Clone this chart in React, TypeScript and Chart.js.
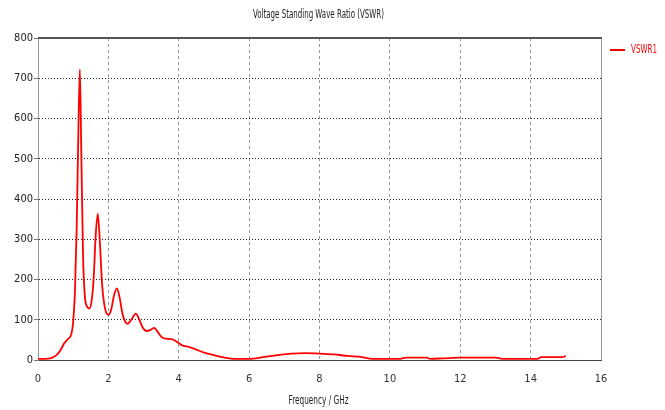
import React, { useEffect, useRef } from "react";
import { Chart, registerables } from "chart.js";

Chart.register(...registerables);

const freqGHz = [
  0, 0.2, 0.35, 0.45, 0.55, 0.65, 0.75, 0.85, 0.95, 1.0, 1.05, 1.1, 1.15, 1.19, 1.23, 1.28, 1.33, 1.4, 1.46,
  1.52, 1.58, 1.64, 1.7, 1.76, 1.82, 1.9, 2.0, 2.08, 2.16, 2.24, 2.32, 2.4, 2.48, 2.55, 2.65, 2.78, 2.88,
  2.98, 3.08, 3.2, 3.3, 3.4, 3.5, 3.62, 3.8, 3.95, 4.08, 4.3, 4.5, 4.7, 5.0, 5.3, 5.6, 6.0, 6.4, 6.8, 7.2,
  7.6, 8.0, 8.4, 8.8, 9.2, 9.5, 10.3, 10.45, 11.05, 11.15, 11.5, 12.0, 13.0, 13.2, 14.2, 14.3, 14.9, 15.0,
];
const vswr1 = [
  3, 3, 4, 8, 14, 26, 42, 52, 65, 95, 170, 330, 580, 722, 520, 260, 160, 132, 128,
  145, 200, 310, 363, 290, 190, 130, 112, 125, 160, 178, 155, 115, 95, 90, 100, 115, 100,
  80, 72, 75, 80, 70, 58, 53, 52, 45, 37, 32, 26, 19, 12, 6, 3, 3, 7, 12, 16,
  17, 16, 14, 10, 7, 3, 3, 6, 6, 3, 4, 6, 6, 3, 3, 7, 7, 10,
];
const xTicks = [0, 2, 4, 6, 8, 10, 12, 14, 16];
const yTicks = [0, 100, 200, 300, 400, 500, 600, 700, 800];
const chartTitle = "Voltage Standing Wave Ratio (VSWR)";
const xAxisTitle = "Frequency / GHz";
const seriesName = "VSWR1";

function pickFont(cands: string[], fallback: string): string {
  const c = document.createElement("canvas").getContext("2d");
  if (!c) return fallback;
  const sample = "Voltage Standing 0123456789 VSWR";
  for (const name of cands) {
    let found = false;
    for (const base of ["monospace", "serif"]) {
      c.font = "20px " + base;
      const w0 = c.measureText(sample).width;
      c.font = '20px "' + name + '", ' + base;
      const w1 = c.measureText(sample).width;
      if (Math.abs(w0 - w1) > 0.5) found = true;
    }
    if (found) return '"' + name + '"';
  }
  return fallback;
}

export default function App() {
  const ref = useRef<HTMLCanvasElement | null>(null);
  useEffect(() => {
    if (!ref.current) return;
    const FONT = pickFont(
      ["Liberation Sans Narrow", "DejaVu Sans Condensed", "Roboto Condensed", "Arial Narrow", "Liberation Sans"],
      "sans-serif"
    );
    const drawText = (
      ctx: any, text: string, cx: number, cy: number, targetW: number, color: string, align: string, size: number
    ) => {
      ctx.save();
      ctx.font = size + "px " + FONT;
      ctx.fillStyle = color;
      ctx.textBaseline = "middle";
      ctx.textAlign = "left";
      const w = ctx.measureText(text).width;
      const k = Math.min(1, targetW / w);
      const left = align === "center" ? cx - (w * k) / 2 : cx;
      ctx.translate(left, cy);
      ctx.scale(k, 1);
      ctx.fillText(text, 0, 0);
      ctx.restore();
    };
    const decor = {
      id: "decor",
      afterDraw(chart: any) {
        const { ctx, chartArea: a } = chart;
        ctx.save();
        ctx.strokeStyle = "#999";
        ctx.lineWidth = 1;
        ctx.beginPath();
        ctx.moveTo(a.right + 0.5, a.top);
        ctx.lineTo(a.right + 0.5, a.bottom);
        ctx.stroke();
        ctx.strokeStyle = "#555";
        ctx.lineWidth = 2;
        ctx.beginPath();
        ctx.moveTo(a.left, a.top);
        ctx.lineTo(a.right + 1, a.top);
        ctx.stroke();
        const cx = (a.left + a.right) / 2;
        drawText(ctx, chartTitle, cx - 1, 15, 131, "#222", "center", 12);
        drawText(ctx, xAxisTitle, cx - 1, 401, 60, "#222", "center", 12);
        // legend
        ctx.strokeStyle = "#ff0000";
        ctx.lineWidth = 2;
        ctx.beginPath();
        ctx.moveTo(610, 50);
        ctx.lineTo(625, 50);
        ctx.stroke();
        drawText(ctx, seriesName, 631, 50, 26, "#ff0000", "left", 12);
        ctx.restore();
      },
    };
    const chart = new Chart(ref.current, {
      type: "line",
      data: {
        datasets: [
          {
            label: seriesName,
            data: freqGHz.map((f, i) => ({ x: f, y: vswr1[i] })),
            borderColor: "#ff0000",
            borderWidth: 1.8,
            pointRadius: 0,
            cubicInterpolationMode: "monotone",
            fill: false,
          },
        ],
      },
      options: {
        animation: false,
        responsive: false,
        maintainAspectRatio: false,
        layout: { padding: { left: 0, right: 64, top: 38, bottom: 0 } },
        plugins: { legend: { display: false }, title: { display: false }, tooltip: { enabled: false } },
        scales: {
          x: {
            type: "linear",
            min: 0,
            max: 16,
            afterBuildTicks: (s: any) => {
              s.ticks = xTicks.map((v) => ({ value: v }));
            },
            afterFit: (s: any) => {
              s.height = 50;
            },
            ticks: { font: { family: FONT, size: 11 }, color: "#333", padding: 13, maxRotation: 0 },
            grid: {
              color: (c: any) =>
                c.tick && (c.tick.value === 0 || c.tick.value === 16) ? "rgba(0,0,0,0)" : "#999",
              drawTicks: false,
            },
            border: { display: true, color: "#444", width: 1, dash: [3, 3] },
          },
          y: {
            min: 0,
            max: 800,
            afterBuildTicks: (s: any) => {
              s.ticks = yTicks.map((v) => ({ value: v }));
            },
            afterFit: (s: any) => {
              s.width = 38;
            },
            ticks: { font: { family: FONT, size: 11 }, color: "#222", padding: 1 },
            grid: {
              color: (c: any) =>
                c.tick && (c.tick.value === 0 || c.tick.value === 800) ? "rgba(0,0,0,0)" : "#222",
              tickLength: 4,
              tickColor: "#777",
              tickBorderDash: [],
            },
            border: { display: true, color: "#999", width: 1, dash: [1, 2] },
          },
        },
      },
      plugins: [decor],
    } as any);
    return () => chart.destroy();
  }, []);
  return (
    <div style={{ position: "fixed", left: 0, top: 0, width: 665, height: 410, background: "#fff" }}>
      <canvas ref={ref} width={665} height={410} style={{ width: 665, height: 410 }} />
    </div>
  );
}
